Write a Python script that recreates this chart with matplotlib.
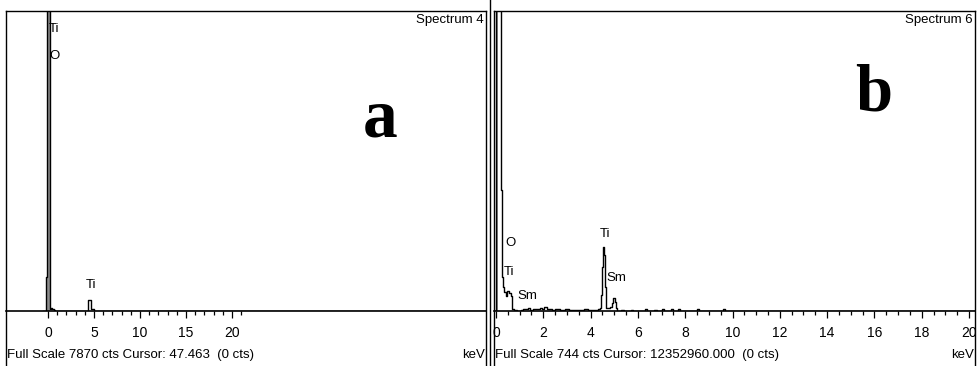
import matplotlib
matplotlib.use("Agg")
from matplotlib import pyplot as plt
from matplotlib.lines import Line2D
from matplotlib.ticker import FixedLocator

W, H = 977, 366

# spectrum 4 (panel a): bin start energies [keV] and counts, drawn as steps
a_energy = [-0.5, -0.25, -0.12, 0.2, 0.3, 0.45, 0.6, 0.75, 4.3, 4.38, 4.62, 4.75, 4.95, 5.1, 48.0]
a_counts = [0, 880, 12000, 60, 80, 50, 30, 0, 15, 300, 60, 40, 10, 0, 0]
a_zero_peak = {"pos": 0.04, "width": 0.32, "cts": 12000}
a_full_scale = 7870
a_labels = [("Ti", 0.1, 7410), ("O", 0.1, 6680), ("Ti", 4.05, 680)]

# spectrum 6 (panel b)
b_energy = [-0.1, 0.0, 0.22, 0.27, 0.30, 0.35, 0.42, 0.48, 0.56, 0.62, 0.68, 0.75, 0.90,
            1.05, 1.15, 1.25, 1.35, 1.45, 1.55, 1.65, 1.75, 1.85, 1.95, 2.05, 2.15,
            2.25, 2.35, 2.5, 2.7, 2.9, 3.1, 3.3, 3.5, 3.7, 3.9, 4.1, 4.3, 4.4, 4.45,
            4.48, 4.52, 4.56, 4.6, 4.64, 4.8, 4.9, 4.95, 5.02, 5.08, 5.12, 5.3, 5.4,
            5.7, 5.8, 6.3, 6.4, 6.7, 6.8, 7.0, 7.1, 7.4, 7.5, 7.7, 7.8, 8.5, 8.6,
            9.6, 9.7, 20.5]
b_counts = [0, 3000, 300, 85, 60, 48, 38, 50, 45, 37, 5, 2, 0,
            3, 6, 4, 7, 3, 5, 6, 4, 8, 5, 9, 6,
            4, 3, 4, 3, 5, 2, 3, 2, 4, 2, 3, 5, 8, 40,
            110, 159, 140, 60, 8, 10, 20, 32, 22, 8, 0, 3, 0,
            3, 0, 4, 0, 2, 0, 4, 0, 5, 0, 4, 0, 4, 0,
            5, 0, 0]
b_zero_peak = {"pos": 0.04, "width": 0.09, "cts": 3000}
b_full_scale = 744
b_labels = [("O", 0.38, 169), ("Ti", 0.34, 97), ("Sm", 0.92, 37),
            ("Ti", 4.4, 191), ("Sm", 4.66, 82)]

narrow = ["Liberation Sans Narrow", "Liberation Sans", "DejaVu Sans"]


def fx(px):
    return px / W


def fy(py):
    return 1 - py / H


def draw_spectrum(ax, energy, counts, zero_peak, labels, full_scale, xlim, major, minor, tick_max):
    ax.bar(zero_peak["pos"], zero_peak["cts"], width=zero_peak["width"],
           color="#8c8c8c", linewidth=0, zorder=1)
    ax.plot(energy, counts, drawstyle="steps-post", color="black", lw=1.0, zorder=3)
    for txt, x, y in labels:
        ax.text(x, y, txt, fontsize=9.5, family=narrow, ha="left", va="center", zorder=2)
    ax.set_xlim(*xlim)
    ax.set_ylim(0, full_scale)
    for s in ("top", "left", "right"):
        ax.spines[s].set_visible(False)
    ax.spines["bottom"].set_linewidth(1.2)
    ax.set_yticks([])
    majors = [v for v in range(0, tick_max + 1, major)]
    minors = [i * minor for i in range(int(tick_max / minor) + 1)]
    ax.xaxis.set_major_locator(FixedLocator(majors))
    ax.xaxis.set_minor_locator(FixedLocator(minors))
    ax.tick_params(axis="x", which="major", direction="out", length=5, width=0.9, pad=6,
                   labelsize=10)
    ax.tick_params(axis="x", which="minor", direction="out", length=3, width=0.9)
    for lab in ax.get_xticklabels():
        lab.set_family(narrow)
    ax.patch.set_visible(False)


fig = plt.figure(figsize=(W / 100, H / 100), dpi=100)

ax_a = fig.add_axes([fx(6), fy(311), (486 - 6) / W, 300 / H])
draw_spectrum(ax_a, a_energy, a_counts, a_zero_peak, a_labels, a_full_scale,
              ((6 - 48) / 9.2, (486 - 48) / 9.2), 5, 1, 20)
ax_a.xaxis.set_minor_locator(FixedLocator(list(range(0, 22))))

ax_b = fig.add_axes([fx(494), fy(311), (975 - 494) / W, 300 / H])
draw_spectrum(ax_b, b_energy, b_counts, b_zero_peak, b_labels, b_full_scale,
              ((494 - 496) / 23.65, (975 - 496) / 23.65), 2, 0.5, 20)

# panel frames
frame = [((6, 6), (11, H)), ((6, 486), (11, 11)), ((486, 486), (11, H)),
         ((490, 490), (0, H)), ((494, 494), (11, H)), ((494, 975), (11, 11)),
         ((975, 975), (11, H))]
for xs, ys in frame:
    fig.add_artist(Line2D([fx(xs[0]), fx(xs[1])], [fy(ys[0]), fy(ys[1])],
                          transform=fig.transFigure, color="black", lw=1.0))

# header / footer texts
fig.text(fx(484), fy(20), "Spectrum 4", fontsize=9.5, family=narrow, ha="right", va="center")
fig.text(fx(973), fy(20), "Spectrum 6", fontsize=9.5, family=narrow, ha="right", va="center")
fig.text(fx(7), fy(355), "Full Scale 7870 cts Cursor: 47.463  (0 cts)", fontsize=9.5,
         family=narrow, ha="left", va="center")
fig.text(fx(485), fy(355), "keV", fontsize=9.5, family=narrow, ha="right", va="center")
fig.text(fx(495), fy(355), "Full Scale 744 cts Cursor: 12352960.000  (0 cts)", fontsize=9.5,
         family=narrow, ha="left", va="center")
fig.text(fx(974), fy(355), "keV", fontsize=9.5, family=narrow, ha="right", va="center")

# panel letters
fig.text(fx(380), fy(120), "a", fontsize=50, family="Liberation Serif", weight="bold",
         ha="center", va="center")
fig.text(fx(874), fy(94), "b", fontsize=48, family="Liberation Serif", weight="bold",
         ha="center", va="center")

fig.savefig("out.png", dpi=100)
